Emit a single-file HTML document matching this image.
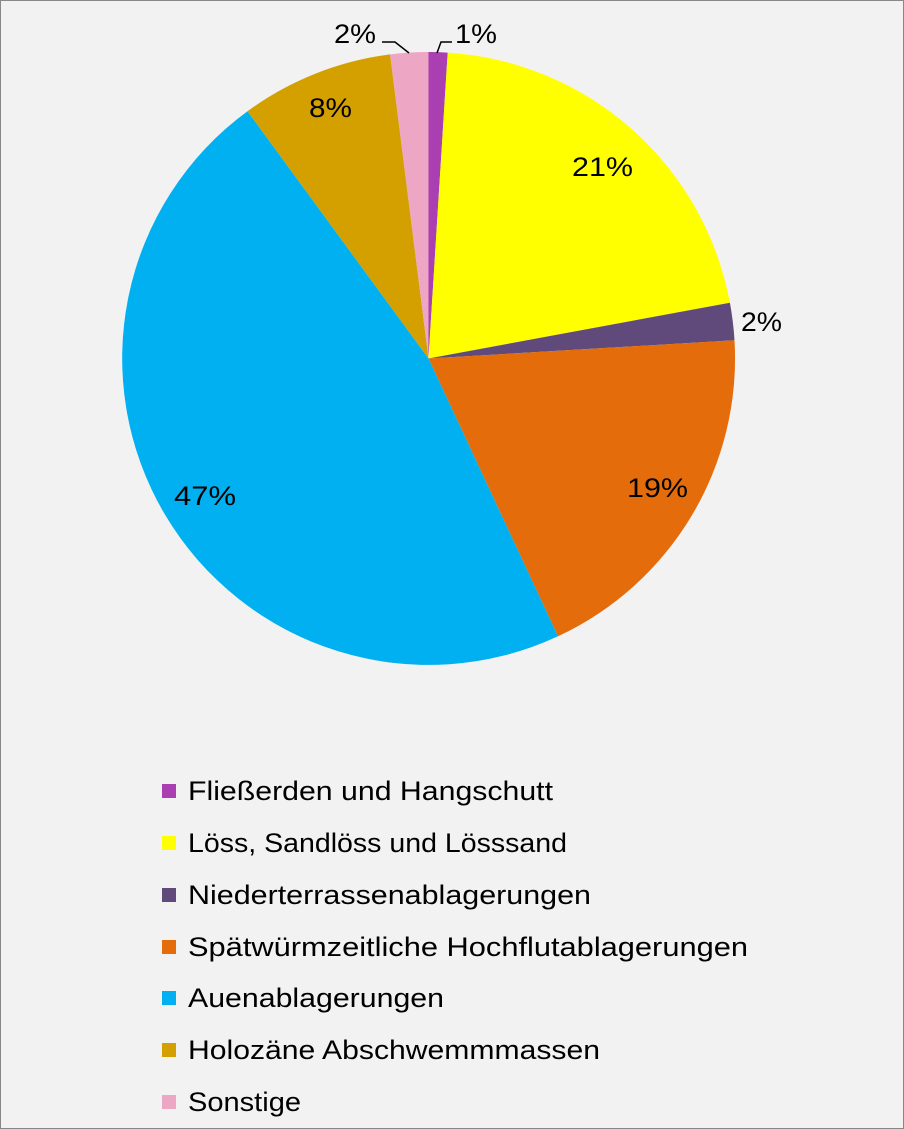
<!DOCTYPE html>
<html><head><meta charset="utf-8"><style>
html,body{margin:0;padding:0}
body{width:904px;height:1129px;background:#f2f2f2;position:relative;overflow:hidden;font-family:"Liberation Sans",sans-serif}
.frame{position:absolute;left:0;top:0;width:902px;height:1127px;border:1px solid #888}
svg{position:absolute;left:0;top:0}
</style></head><body>
<div class="frame"></div>
<svg width="904" height="1129" font-family="Liberation Sans, sans-serif" font-size="27" fill="#000">
<g>
<path d="M428.5,358.5 L428.5,52 A306.5,306.5 0 0 1 447.7,52.6 Z" fill="#a93fb0"/>
<path d="M428.5,358.5 L447.7,52.6 A306.5,306.5 0 0 1 729.9,302.7 Z" fill="#ffff00"/>
<path d="M428.5,358.5 L729.9,302.7 A306.5,306.5 0 0 1 734.5,340.3 Z" fill="#604a7b"/>
<path d="M428.5,358.5 L734.5,340.3 A306.5,306.5 0 0 1 558.0,636.3 Z" fill="#e46c0a"/>
<path d="M428.5,358.5 L558.0,636.3 A306.5,306.5 0 0 1 247.5,111.2 Z" fill="#00b0f0"/>
<path d="M428.5,358.5 L247.5,111.2 A306.5,306.5 0 0 1 390.1,54.4 Z" fill="#d4a000"/>
<path d="M428.5,358.5 L390.1,54.4 A306.5,306.5 0 0 1 428.5,52 Z" fill="#eda6c3"/>
</g>
<polyline points="382,42 395,42 409,53" fill="none" stroke="#000" stroke-width="1.5"/>
<polyline points="437,53 441,42 452,42" fill="none" stroke="#000" stroke-width="1.5"/>
<g lengthAdjust="spacingAndGlyphs">
<text x="334" y="43" textLength="42" lengthAdjust="spacingAndGlyphs">2%</text>
<text x="455" y="43" textLength="42" lengthAdjust="spacingAndGlyphs">1%</text>
<text x="572" y="176" textLength="61" lengthAdjust="spacingAndGlyphs">21%</text>
<text x="741" y="331" textLength="41" lengthAdjust="spacingAndGlyphs">2%</text>
<text x="627" y="497" textLength="61" lengthAdjust="spacingAndGlyphs">19%</text>
<text x="174" y="505" textLength="62" lengthAdjust="spacingAndGlyphs">47%</text>
<text x="309" y="117" textLength="43" lengthAdjust="spacingAndGlyphs">8%</text>
</g>
<g>
<rect x="162" y="784" width="14" height="14" fill="#a93fb0"/>
<rect x="162" y="836" width="14" height="14" fill="#ffff00"/>
<rect x="162" y="888" width="14" height="14" fill="#604a7b"/>
<rect x="162" y="940" width="14" height="14" fill="#e46c0a"/>
<rect x="162" y="991" width="14" height="14" fill="#00b0f0"/>
<rect x="162" y="1043" width="14" height="14" fill="#d4a000"/>
<rect x="162" y="1095" width="14" height="14" fill="#eda6c3"/>
<text x="188" y="800" textLength="365" lengthAdjust="spacingAndGlyphs">Fließerden und Hangschutt</text>
<text x="188" y="852" textLength="379" lengthAdjust="spacingAndGlyphs">Löss, Sandlöss und Lösssand</text>
<text x="188" y="904" textLength="403" lengthAdjust="spacingAndGlyphs">Niederterrassenablagerungen</text>
<text x="188" y="956" textLength="560" lengthAdjust="spacingAndGlyphs">Spätwürmzeitliche Hochflutablagerungen</text>
<text x="188" y="1007" textLength="256" lengthAdjust="spacingAndGlyphs">Auenablagerungen</text>
<text x="188" y="1059" textLength="412" lengthAdjust="spacingAndGlyphs">Holozäne Abschwemmmassen</text>
<text x="188" y="1111" textLength="113" lengthAdjust="spacingAndGlyphs">Sonstige</text>
</g>
</svg>
</body></html>
